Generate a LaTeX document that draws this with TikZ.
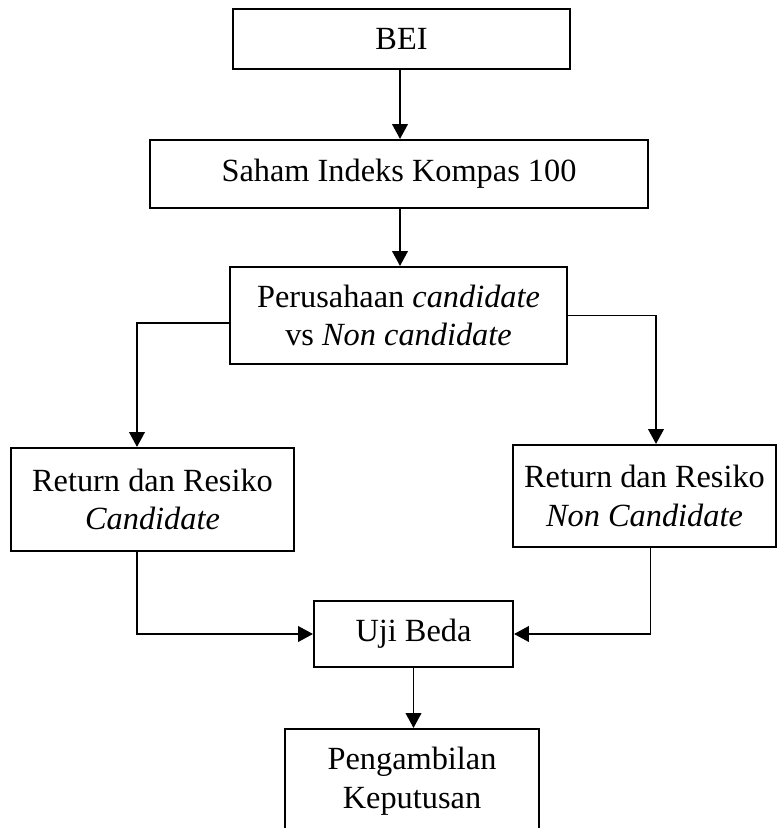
\documentclass[tikz,border=0pt]{standalone}
\usepackage{fontspec}
\setmainfont{Liberation Serif}
\usetikzlibrary{arrows.meta}

\tikzset{
    box/.style={draw, line width=0.75pt, align=center, inner sep=0pt,
        font=\fontsize{11.5pt}{13.8pt}\selectfont},
    conn/.style={line width=0.55pt, -{Triangle[length=5.3pt, width=5.6pt]}}
}

\begin{document}
\begin{tikzpicture}[x=0.0125cm, y=-0.0125cm]
    \useasboundingbox (0,0) rectangle (777,828);

    % Boxes
    \node[box, minimum width=337*0.0125cm, minimum height=60*0.0125cm] (bei) at (401.5,39) {BEI};
    \node[box, minimum width=498*0.0125cm, minimum height=68*0.0125cm] (saham) at (399,174) {Saham Indeks Kompas 100};
    \node[box, minimum width=337*0.0125cm, minimum height=97*0.0125cm] (perus) at (398.5,315.5)
        {Perusahaan \textit{candidate}\\vs \textit{Non candidate}};
    \node[box, minimum width=283*0.0125cm, minimum height=103*0.0125cm] (retc) at (152.5,499.5)
        {Return dan Resiko\\\textit{Candidate}};
    \node[box, minimum width=263*0.0125cm, minimum height=102*0.0125cm] (retnc) at (644.5,496)
        {Return dan Resiko\\\textit{Non Candidate}};
    \node[box, minimum width=199*0.0125cm, minimum height=66*0.0125cm] (uji) at (413.5,634) {Uji Beda};
    \node[box, minimum width=254*0.0125cm, minimum height=104*0.0125cm] (ambil) at (412,781)
        {Pengambilan\\Keputusan};

    % Connectors
    \draw[conn] ([xshift=-1.5*0.0125cm]bei.south) -- ([xshift=-1.5*0.0125cm]bei.south |- saham.north);
    \draw[conn] ([xshift=1*0.0125cm]saham.south) -- ([xshift=1*0.0125cm]saham.south |- perus.north);
    \draw[conn] ([yshift=-7.5*0.0125cm]perus.west) -| ([xshift=-15.5*0.0125cm]retc.north);
    \draw[conn] (perus.east) -| ([xshift=11.5*0.0125cm]retnc.north);
    \draw[conn] ([xshift=-15.5*0.0125cm]retc.south) |- (uji.west);
    \draw[conn] ([xshift=6*0.0125cm]retnc.south) |- (uji.east);
    \draw[conn] (uji.south) -- (uji.south |- ambil.north);
\end{tikzpicture}
\end{document}
